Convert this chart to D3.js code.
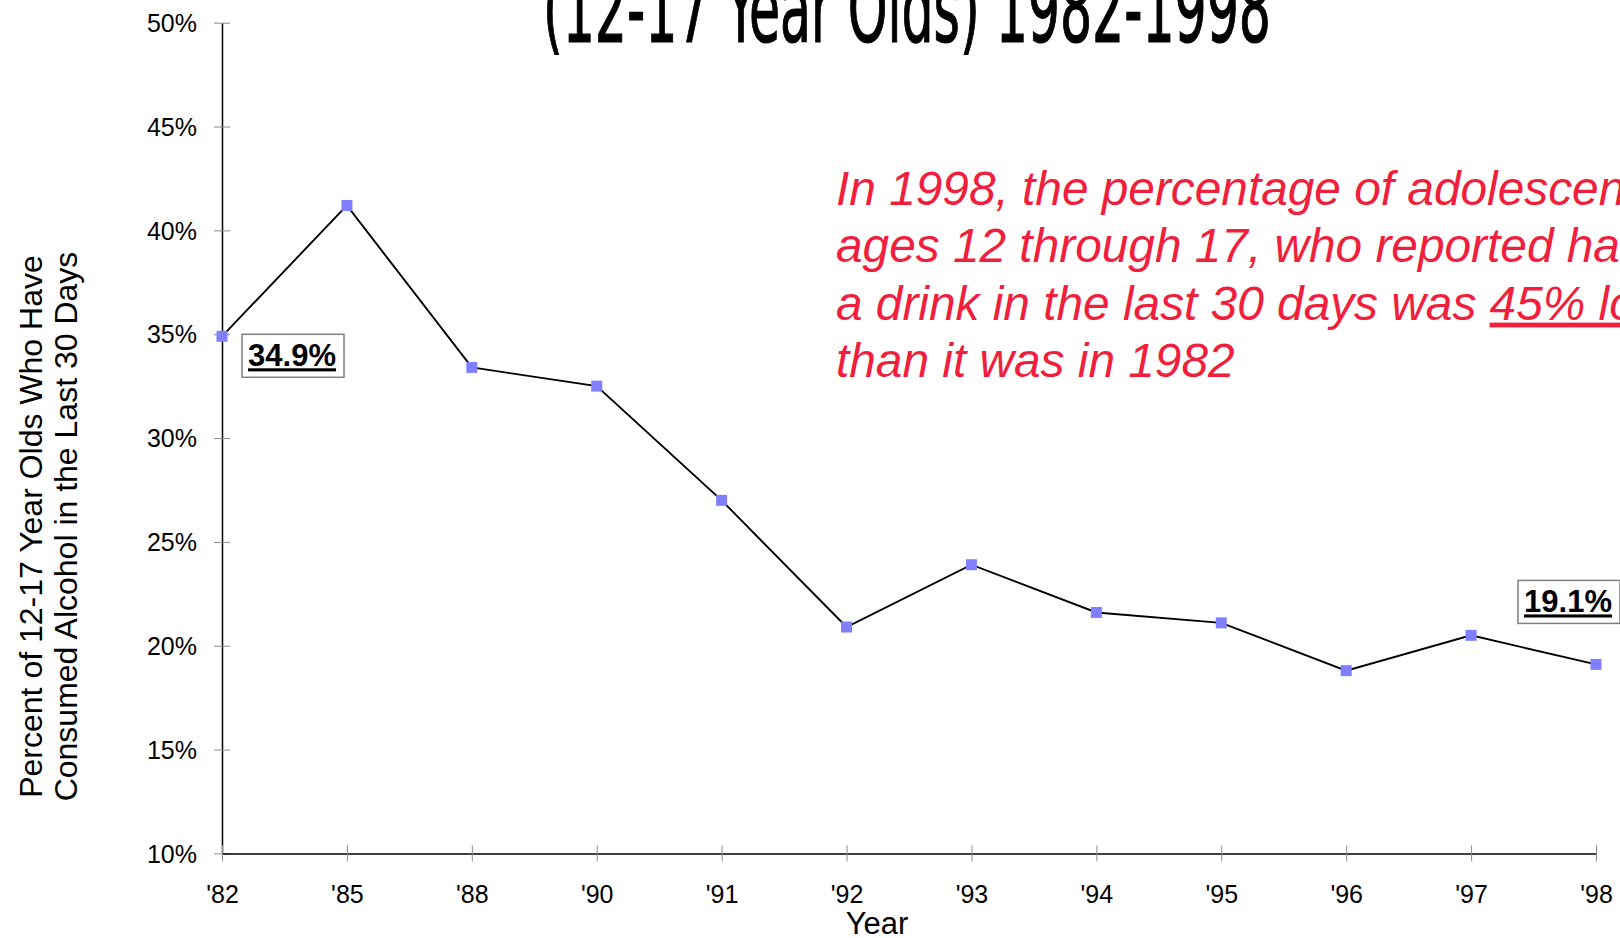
<!DOCTYPE html>
<html>
<head>
<meta charset="utf-8">
<script src="https://cdn.jsdelivr.net/npm/d3@7"></script>
<style>
  html, body { margin: 0; padding: 0; background: #fff; }
  svg { display: block; font-family: Arial, "Liberation Sans", sans-serif; }
</style>
</head>
<body>
<div id="main"></div>
<script>
// data
var years = ["'82", "'85", "'88", "'90", "'91", "'92", "'93", "'94", "'95", "'96", "'97", "'98"];
var percents = [34.9, 41.2, 33.4, 32.5, 27.0, 20.9, 23.9, 21.6, 21.1, 18.8, 20.5, 19.1];
var yTicks = [10, 15, 20, 25, 30, 35, 40, 45, 50];
var labelledPoints = [0, 11];  // indices that get a boxed value label

var titleText = "(12-17 Year Olds) 1982-1998";
var yTitleLines = ["Percent of 12-17 Year Olds Who Have", "Consumed Alcohol in the Last 30 Days"];
var xTitle = "Year";
var noteLines = [
    ["In 1998, the percentage of adolescents,"],
    ["ages 12 through 17, who reported having"],
    ["a drink in the last 30 days was ", "45% lower"],
    ["than it was in 1982"]
];

var ctx = {
    w: 1620,
    h: 938,
    left: 222,
    right: 1596,
    top: 22.7,
    bottom: 853.4,
    marker: 11,
    red: "#f01f3d",
    markerColor: "#8080ff"
};

var createChart = function(svg) {
    var x = d3.scalePoint().domain(years).range([ctx.left, ctx.right]);
    var y = d3.scaleLinear().domain([10, 50]).range([ctx.bottom, ctx.top]);

    // title (only the lower line is visible in the picture)
    svg.append("text")
        .attr("x", 543)
        .attr("y", 42)
        .attr("textLength", 728)
        .attr("lengthAdjust", "spacingAndGlyphs")
        .style("font-family", "'Liberation Sans Narrow', 'DejaVu Sans Condensed', Arial, sans-serif")
        .style("font-size", "94px")
        .attr("stroke", "#000")
        .attr("stroke-width", 1.2)
        .text(titleText);

    // y axis, ticks cross the line
    var yAxis = svg.append("g")
        .attr("transform", "translate(" + ctx.left + ",0)")
        .call(d3.axisLeft(y).tickValues(yTicks).tickSizeOuter(0).tickFormat(function(d) { return d + "%"; }));
    yAxis.select(".domain").attr("stroke", "#000").attr("stroke-width", 1.5);
    yAxis.selectAll(".tick line").attr("x1", -8).attr("x2", 8).attr("stroke", "#8c8c8c");
    yAxis.selectAll(".tick text")
        .attr("x", -25)
        .attr("dy", "0.35em")
        .style("font-size", "25px")
        .style("font-family", "Arial, 'Liberation Sans', sans-serif")
        .attr("fill", "#000");

    // x axis
    var xAxis = svg.append("g")
        .attr("transform", "translate(0," + ctx.bottom + ")")
        .call(d3.axisBottom(x).tickSizeOuter(0));
    xAxis.select(".domain").attr("stroke", "#000").attr("stroke-width", 1.5);
    xAxis.selectAll(".tick line").attr("y1", -8).attr("y2", 8).attr("stroke", "#8c8c8c");
    xAxis.selectAll(".tick text")
        .attr("y", 50)
        .attr("dy", null)
        .style("font-size", "25px")
        .style("font-family", "Arial, 'Liberation Sans', sans-serif")
        .attr("fill", "#000");

    // axis titles
    svg.append("text")
        .attr("x", 877)
        .attr("y", 934)
        .attr("text-anchor", "middle")
        .style("font-size", "31px")
        .text(xTitle);

    var yTitle = svg.append("text")
        .attr("transform", "translate(0,526.5) rotate(-90)")
        .attr("text-anchor", "middle")
        .style("font-size", "32px");
    yTitleLines.forEach(function(line, i) {
        yTitle.append("tspan")
            .attr("x", 0)
            .attr("y", 41.5 + i * 35.5)
            .text(line);
    });

    // the line and its markers
    var line = d3.line()
        .x(function(d, i) { return x(years[i]); })
        .y(function(d) { return y(d); });
    svg.append("path")
        .datum(percents)
        .attr("d", line)
        .attr("fill", "none")
        .attr("stroke", "#000")
        .attr("stroke-width", 1.9);

    svg.selectAll("rect.marker")
        .data(percents)
        .enter()
        .append("rect")
        .attr("class", "marker")
        .attr("x", function(d, i) { return x(years[i]) - ctx.marker / 2; })
        .attr("y", function(d) { return y(d) - ctx.marker / 2; })
        .attr("width", ctx.marker)
        .attr("height", ctx.marker)
        .attr("fill", ctx.markerColor);

    // boxed value labels: first one sits right-below the point, last one above-left
    labelledPoints.forEach(function(idx, k) {
        var px = x(years[idx]), py = y(percents[idx]);
        var bw = 102, bh = 43;
        var bx, by;
        if (k == 0) {
            bx = px + 20; by = py - 2;
        } else {
            bx = px - 78; by = py - 84;
        }
        var g = svg.append("g").attr("transform", "translate(" + bx + "," + by + ")");
        g.append("rect")
            .attr("width", bw)
            .attr("height", bh)
            .attr("fill", "#fff")
            .attr("stroke", "#7f7f7f")
            .attr("stroke-width", 1.5);
        g.append("text")
            .attr("x", bw / 2 - 1)
            .attr("y", 32)
            .attr("text-anchor", "middle")
            .style("font-size", "31px")
            .style("font-weight", "bold")
            .style("text-decoration", "underline")
            .text(percents[idx].toFixed(1) + "%");
    });

    // red note
    var note = svg.append("text")
        .style("font-size", "47.8px")
        .style("font-style", "italic")
        .attr("fill", ctx.red);
    noteLines.forEach(function(parts, i) {
        parts.forEach(function(part, j) {
            var t = note.append("tspan").text(part);
            if (j == 0) {
                t.attr("x", 836).attr("y", 205 + i * 57.3);
            } else {
                t.style("text-decoration", "underline");
            }
        });
    });
};

var createViz = function() {
    var svgEl = d3.select("#main").append("svg");
    svgEl.attr("width", ctx.w);
    svgEl.attr("height", ctx.h);
    createChart(svgEl);
};

createViz();
</script>
</body>
</html>
